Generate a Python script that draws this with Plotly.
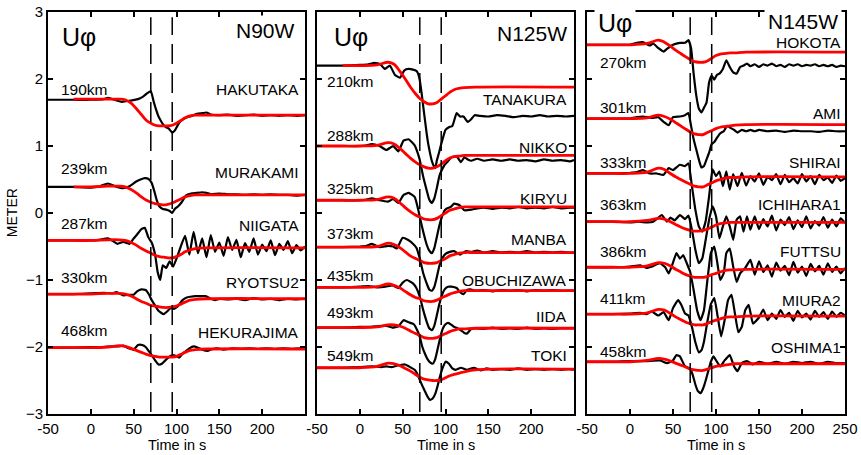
import plotly.graph_objects as go

FONT = "Liberation Sans, Arial, sans-serif"

# ---------------- time grid for synthetic (red) traces ----------------
SYN_T = [-50, -20, 0, 20, 33, 40, 47, 53, 59, 65, 70, 75, 80, 85, 90, 95, 100, 105, 110, 116, 122, 135, 250]
DASH_T = [70, 95]

# ---------------- Panel 1 : N90W ----------------
P1_TITLE = "N90W"
P1_NAMES = ["HAKUTAKA", "MURAKAMI", "NIIGATA", "RYOTSU2", "HEKURAJIMA"]
P1_DIST = ["190km", "239km", "287km", "330km", "468km"]

hakutaka_t = [-50, -20, 0, 15, 20, 25, 30, 36, 42, 48, 55, 60, 65, 70, 73, 76, 79, 82, 85, 88, 91, 95, 98, 101, 104,
              108, 112, 118, 124, 130, 135, 140, 150, 160, 170, 180, 190, 200, 210, 220, 230, 240, 250]
hakutaka_obs = [1.69, 1.69, 1.69, 1.70, 1.72, 1.70, 1.68, 1.66, 1.67, 1.68, 1.70, 1.73, 1.78, 1.82, 1.68, 1.55, 1.44,
                1.37, 1.31, 1.28, 1.26, 1.20, 1.23, 1.30, 1.36, 1.40, 1.43, 1.45, 1.48, 1.49, 1.50, 1.47, 1.46, 1.47,
                1.45, 1.46, 1.47, 1.45, 1.46, 1.45, 1.46, 1.45, 1.46]
hakutaka_syn = [None, 1.70, 1.70, 1.70, 1.70, 1.69, 1.64, 1.56, 1.47, 1.38, 1.34, 1.31, 1.30, 1.30, 1.30, 1.31, 1.34,
                1.38, 1.42, 1.45, 1.46, 1.46, 1.46]

murakami_t = [-50, -20, 0, 10, 20, 28, 37, 45, 53, 58, 63, 67, 71, 74, 77, 80, 84, 88, 92, 95, 98, 102, 106, 111, 117,
              123, 130, 135, 140, 150, 160, 170, 180, 190, 200, 210, 220, 230, 240, 250]
murakami_obs = [0.39, 0.39, 0.38, 0.40, 0.44, 0.40, 0.37, 0.40, 0.47, 0.50, 0.52, 0.51, 0.45, 0.33, 0.19, 0.10, 0.06,
                0.05, 0.03, 0.00, 0.06, 0.10, 0.16, 0.26, 0.29, 0.30, 0.31, 0.30, 0.28, 0.29, 0.28, 0.28, 0.27, 0.28,
                0.27, 0.28, 0.27, 0.27, 0.26, 0.27]
murakami_syn = [None, 0.39, 0.39, 0.40, 0.40, 0.39, 0.35, 0.30, 0.24, 0.19, 0.16, 0.14, 0.13, 0.12, 0.13, 0.15, 0.18,
                0.21, 0.24, 0.26, 0.27, 0.27, 0.27]

niigata_t = [-50, -20, 0, 10, 20, 26, 31, 38, 45, 50, 54, 59, 63, 67, 71, 75, 78, 81, 84, 88, 92, 96, 100,
             105, 110, 115, 120, 125, 130, 135, 140, 145, 150, 155, 160, 165, 170, 175, 180, 185, 190, 195, 200,
             205, 210, 215, 220, 225, 230, 235, 240, 245, 250]
niigata_obs = [-0.41, -0.41, -0.41, -0.40, -0.38, -0.42, -0.46, -0.43, -0.46, -0.38, -0.32, -0.24, -0.22, -0.36,
               -0.44, -0.62, -0.88, -1.00, -0.78, -0.82, -0.72, -0.80, -0.68,
               -0.50, -0.34, -0.62, -0.28, -0.60, -0.38, -0.66, -0.33, -0.58, -0.44, -0.64, -0.36, -0.55, -0.40,
               -0.66, -0.45, -0.58, -0.38, -0.62, -0.47, -0.57, -0.41, -0.63, -0.46, -0.55, -0.42, -0.60, -0.48,
               -0.56, -0.50]
niigata_syn = [-0.41, -0.41, -0.41, -0.40, -0.40, -0.41, -0.44, -0.48, -0.53, -0.57, -0.60, -0.63, -0.65, -0.66,
               -0.67, -0.67, -0.65, -0.62, -0.58, -0.55, -0.53, -0.52, -0.52]

ryotsu2_t = [-50, -20, 0, 15, 25, 30, 38, 45, 50, 54, 59, 64, 68, 71, 75, 79, 85, 89, 93, 97, 101, 107, 112, 116, 122,
             128, 134, 140, 145, 150, 160, 170, 180, 190, 200, 210, 220, 230, 240, 250]
ryotsu2_obs = [-1.21, -1.21, -1.20, -1.19, -1.20, -1.18, -1.23, -1.22, -1.22, -1.17, -1.14, -1.15, -1.22, -1.30,
               -1.38, -1.46, -1.51, -1.47, -1.42, -1.43, -1.40, -1.30, -1.26, -1.25, -1.24, -1.24, -1.24, -1.28,
               -1.30, -1.28, -1.29, -1.28, -1.30, -1.27, -1.29, -1.28, -1.30, -1.28, -1.29, -1.28]
ryotsu2_syn = [-1.21, -1.21, -1.21, -1.20, -1.20, -1.21, -1.24, -1.28, -1.32, -1.35, -1.38, -1.39, -1.40, -1.41,
               -1.41, -1.40, -1.39, -1.36, -1.33, -1.30, -1.29, -1.28, -1.28]

hekurajima_t = [-50, -20, 0, 15, 25, 32, 38, 44, 50, 55, 60, 64, 67, 71, 75, 79, 83, 87, 91, 95, 99, 103, 107, 111,
                115, 120, 125, 130, 136, 142, 148, 155, 165, 175, 185, 195, 205, 215, 225, 235, 245, 250]
hekurajima_obs = [-2.01, -2.01, -2.00, -2.00, -1.99, -1.99, -1.98, -2.02, -2.04, -1.97, -1.97, -2.00, -2.05, -2.12,
                  -2.20, -2.26, -2.25, -2.20, -2.15, -2.12, -2.13, -2.16, -2.10, -2.06, -2.02, -1.99, -2.01, -2.04,
                  -2.06, -2.03, -2.02, -2.04, -2.02, -2.03, -2.02, -2.03, -2.02, -2.03, -2.02, -2.03, -2.02, -2.03]
hekurajima_syn = [-2.01, -2.01, -2.01, -2.00, -1.98, -1.99, -2.02, -2.05, -2.08, -2.11, -2.13, -2.14, -2.15, -2.15,
                  -2.15, -2.15, -2.14, -2.11, -2.08, -2.05, -2.04, -2.03, -2.03]

# ---------------- Panel 2 : N125W ----------------
P2_TITLE = "N125W"
P2_NAMES = ["TANAKURA", "NIKKO", "KIRYU", "MANBA", "OBUCHIZAWA", "IIDA", "TOKI"]
P2_DIST = ["210km", "288km", "325km", "373km", "435km", "493km", "549km"]

tanakura_t = [-50, -20, 0, 10, 17, 24, 29, 35, 41, 47, 52, 57, 62, 66, 68, 70, 72, 74, 76, 78, 80, 82, 84, 86, 88,
              90, 92, 94, 97, 100, 104, 108, 113, 117, 121, 126, 130, 134, 140, 150, 160, 170, 180, 190, 200, 210,
              220, 230, 240, 250]
tanakura_obs = [2.20, 2.20, 2.21, 2.22, 2.24, 2.22, 2.15, 2.20, 2.06, 2.02, 2.13, 2.15, 2.14, 2.12, 2.08, 1.98, 1.80,
                1.59, 1.39, 1.19, 1.02, 0.89, 0.78, 0.71, 0.67, 0.79, 0.88, 0.98, 1.12, 1.24, 1.28, 1.30, 1.49, 1.44,
                1.44, 1.36, 1.40, 1.46, 1.45, 1.44, 1.46, 1.45, 1.43, 1.45, 1.44, 1.46, 1.44, 1.45, 1.44, 1.45]
tanakura_syn = [None, 2.20, 2.20, 2.21, 2.25, 2.22, 2.11, 2.00, 1.88, 1.78, 1.71, 1.66, 1.63, 1.63, 1.65, 1.70, 1.75,
                1.80, 1.84, 1.86, 1.87, 1.88, 1.88]

nikko_t = [-50, -20, 0, 8, 14, 23, 31, 39, 45, 51, 57, 64, 68, 70, 74, 78, 81, 84, 87, 90, 93, 96, 99, 102, 106, 110,
           114, 118, 122, 126, 130, 137, 145, 155, 165, 175, 185, 195, 205, 215, 225, 235, 245, 250]
nikko_obs = [1.00, 1.00, 1.00, 1.01, 1.03, 1.00, 0.94, 1.00, 0.92, 1.08, 1.10, 1.01, 0.88, 0.79, 0.54, 0.34, 0.20,
             0.15, 0.22, 0.38, 0.56, 0.65, 0.72, 0.76, 0.82, 0.84, 0.83, 0.76, 0.83, 0.80, 0.78, 0.81, 0.78, 0.80,
             0.78, 0.80, 0.78, 0.79, 0.77, 0.80, 0.78, 0.79, 0.77, 0.79]
nikko_syn = [1.00, 1.00, 1.00, 1.01, 1.05, 1.03, 0.96, 0.89, 0.82, 0.76, 0.72, 0.69, 0.67, 0.67, 0.69, 0.73, 0.78,
             0.82, 0.84, 0.85, 0.86, 0.86, 0.86]

kiryu_t = [-50, -20, 0, 8, 14, 23, 33, 39, 45, 51, 57, 64, 68, 70, 74, 78, 81, 84, 87, 90, 93, 96, 99, 102, 106, 110,
           116, 122, 130, 137, 145, 155, 165, 175, 185, 195, 205, 215, 225, 235, 245, 250]
kiryu_obs = [0.19, 0.19, 0.19, 0.20, 0.22, 0.19, 0.17, 0.21, 0.15, 0.27, 0.30, 0.24, 0.06, -0.06, -0.28, -0.47,
             -0.56, -0.60, -0.52, -0.35, -0.18, -0.05, 0.04, 0.07, 0.09, 0.14, 0.12, 0.04, 0.05, 0.07, 0.08, 0.06,
             0.08, 0.07, 0.09, 0.07, 0.08, 0.07, 0.09, 0.07, 0.08, 0.08]
kiryu_syn = [0.19, 0.19, 0.19, 0.20, 0.24, 0.22, 0.15, 0.08, 0.02, -0.03, -0.06, -0.09, -0.10, -0.10, -0.08, -0.04,
             0.00, 0.04, 0.06, 0.08, 0.09, 0.09, 0.09]

manba_t = [-50, -20, 0, 8, 14, 23, 33, 39, 43, 50, 56, 62, 66, 70, 74, 78, 81, 84, 87, 90, 93, 96, 100, 105, 110, 117,
           124, 130, 137, 145, 155, 165, 175, 185, 195, 205, 215, 225, 235, 245, 250]
manba_obs = [-0.51, -0.51, -0.50, -0.49, -0.46, -0.51, -0.49, -0.50, -0.53, -0.37, -0.40, -0.46, -0.52, -0.68, -0.90,
             -1.05, -1.14, -1.16, -1.10, -0.95, -0.78, -0.68, -0.61, -0.58, -0.57, -0.62, -0.57, -0.58, -0.56, -0.59,
             -0.57, -0.59, -0.58, -0.59, -0.57, -0.59, -0.58, -0.59, -0.58, -0.59, -0.59]
manba_syn = [-0.51, -0.51, -0.51, -0.50, -0.45, -0.47, -0.52, -0.58, -0.64, -0.68, -0.71, -0.74, -0.75, -0.75, -0.74,
             -0.71, -0.68, -0.64, -0.62, -0.60, -0.59, -0.59, -0.59]

obuchizawa_t = [-50, -20, 0, 10, 20, 30, 38, 45, 50, 55, 62, 66, 70, 74, 78, 81, 84, 87, 90, 93, 96, 99, 103, 107,
                113, 117, 121, 125, 129, 135, 145, 155, 165, 175, 185, 195, 205, 215, 225, 235, 245, 250]
obuchizawa_obs = [-1.11, -1.11, -1.10, -1.09, -1.11, -1.10, -1.08, -1.12, -1.04, -1.00, -1.05, -1.12, -1.25, -1.45,
                  -1.62, -1.72, -1.75, -1.68, -1.52, -1.35, -1.22, -1.14, -1.10, -1.10, -1.12, -1.18, -1.21, -1.15,
                  -1.14, -1.16, -1.15, -1.17, -1.15, -1.16, -1.15, -1.17, -1.15, -1.16, -1.15, -1.16, -1.16, -1.16]
obuchizawa_syn = [-1.11, -1.11, -1.11, -1.10, -1.06, -1.08, -1.12, -1.17, -1.22, -1.26, -1.28, -1.31, -1.32, -1.32,
                  -1.30, -1.27, -1.24, -1.21, -1.19, -1.17, -1.16, -1.16, -1.16]

iida_t = [-50, -20, 0, 10, 20, 30, 38, 45, 51, 55, 59, 63, 67, 70, 73, 76, 79, 82, 85, 88, 91, 94, 97, 100, 103, 107,
          110, 114, 118, 122, 125, 130, 135, 145, 155, 165, 175, 185, 195, 205, 215, 225, 235, 245, 250]
iida_obs = [-1.71, -1.71, -1.70, -1.70, -1.69, -1.68, -1.71, -1.69, -1.60, -1.62, -1.64, -1.66, -1.75, -1.85, -2.00,
            -2.10, -2.18, -2.23, -2.25, -2.18, -2.02, -1.85, -1.72, -1.66, -1.64, -1.67, -1.70, -1.72, -1.75, -1.79,
            -1.80, -1.73, -1.72, -1.73, -1.71, -1.73, -1.72, -1.73, -1.71, -1.73, -1.72, -1.73, -1.72, -1.72, -1.72]
iida_syn = [-1.71, -1.71, -1.71, -1.70, -1.67, -1.67, -1.69, -1.72, -1.76, -1.80, -1.83, -1.86, -1.87, -1.87, -1.86,
            -1.83, -1.80, -1.77, -1.75, -1.73, -1.73, -1.72, -1.72]

toki_t = [-50, -20, 0, 15, 25, 31, 37, 43, 48, 52, 56, 60, 64, 67, 70, 73, 76, 79, 82, 85, 88, 91, 94, 97, 100, 104,
          108, 112, 118, 125, 133, 141, 148, 155, 165, 175, 185, 195, 205, 215, 225, 235, 245, 250]
toki_obs = [-2.31, -2.31, -2.30, -2.29, -2.30, -2.29, -2.30, -2.28, -2.27, -2.26, -2.28, -2.31, -2.34, -2.40, -2.49,
            -2.58, -2.66, -2.74, -2.79, -2.77, -2.70, -2.57, -2.42, -2.30, -2.22, -2.25, -2.32, -2.34, -2.31, -2.34,
            -2.31, -2.35, -2.32, -2.34, -2.33, -2.34, -2.32, -2.34, -2.33, -2.34, -2.33, -2.34, -2.33, -2.34]
toki_syn = [-2.31, -2.31, -2.31, -2.29, -2.24, -2.25, -2.28, -2.32, -2.36, -2.41, -2.45, -2.48, -2.49, -2.50, -2.50,
            -2.49, -2.46, -2.43, -2.41, -2.39, -2.37, -2.34, -2.33]

# ---------------- Panel 3 : N145W ----------------
P3_TITLE = "N145W"
P3_NAMES = ["HOKOTA", "AMI", "SHIRAI", "ICHIHARA1", "FUTTSU", "MIURA2", "OSHIMA1"]
P3_DIST = ["270km", "301km", "333km", "363km", "386km", "411km", "458km"]

hokota_t = [-50, -20, 0, 8, 15, 23, 27, 33, 39, 43, 50, 58, 64, 68, 71, 74, 77, 80, 83, 86, 89, 92, 95, 98, 101, 104,
            108, 112, 116, 120, 124, 128, 132, 136, 140, 145, 150, 155, 160, 165, 170, 175, 180, 185, 190, 195, 200,
            205, 210, 215, 220, 225, 230, 235, 240, 245, 250]
hokota_obs = [2.51, 2.51, 2.51, 2.54, 2.55, 2.50, 2.53, 2.46, 2.41, 2.45, 2.51, 2.54, 2.54, 2.58, 2.46, 2.08, 1.76,
              1.56, 1.50, 1.57, 1.65, 1.95, 2.05, 1.99, 2.06, 2.08, 2.15, 2.28, 2.18, 2.10, 2.08, 2.18, 2.20, 2.23,
              2.19, 2.22, 2.18, 2.22, 2.20, 2.23, 2.19, 2.21, 2.18, 2.22, 2.20, 2.22, 2.19, 2.21, 2.20, 2.22, 2.19,
              2.21, 2.19, 2.21, 2.18, 2.20, 2.19]
hokota_syn = [2.51, 2.51, 2.51, 2.53, 2.58, 2.55, 2.49, 2.43, 2.38, 2.33, 2.29, 2.26, 2.25, 2.25, 2.27, 2.31, 2.35,
              2.37, 2.38, 2.39, 2.39, 2.40, 2.40]

ami_t = [-50, -20, 0, 8, 15, 25, 33, 39, 45, 50, 58, 64, 68, 71, 74, 77, 80, 83, 86, 89, 92, 95, 98, 101, 105, 109,
         113, 117, 121, 125, 130, 135, 140, 145, 150, 160, 170, 180, 190, 200, 210, 220, 230, 240, 250]
ami_obs = [1.41, 1.41, 1.41, 1.43, 1.44, 1.42, 1.43, 1.36, 1.31, 1.43, 1.44, 1.46, 1.49, 1.30, 1.10, 0.95, 0.80, 0.68,
           0.70, 0.80, 0.90, 1.03, 1.06, 1.12, 1.19, 1.22, 1.30, 1.27, 1.24, 1.20, 1.24, 1.22, 1.24, 1.22, 1.24, 1.22,
           1.23, 1.21, 1.23, 1.22, 1.22, 1.21, 1.23, 1.22, 1.22]
ami_syn = [1.41, 1.41, 1.41, 1.42, 1.46, 1.44, 1.40, 1.35, 1.30, 1.25, 1.21, 1.18, 1.17, 1.17, 1.20, 1.23, 1.26, 1.28,
           1.29, 1.30, 1.31, 1.32, 1.32]

shirai_t = [-50, -20, 0, 8, 15, 23, 31, 39, 45, 50, 58, 64, 68, 72, 76, 80, 84, 88, 92, 96, 100, 104, 108, 112, 116,
            120, 125, 130, 135, 140, 145, 150, 155, 160, 165, 170, 175, 180, 185, 190, 195, 200, 205, 210, 215, 220,
            225, 230, 235, 240, 245, 250]
shirai_obs = [0.59, 0.59, 0.60, 0.61, 0.64, 0.59, 0.59, 0.57, 0.67, 0.64, 0.72, 0.70, 0.74, 0.40, 0.05, -0.20, -0.28,
              -0.12, 0.25, 0.65, 0.55, 0.62, 0.40, 0.62, 0.35, 0.58,
              0.40, 0.60, 0.41, 0.55, 0.47, 0.59, 0.42, 0.54, 0.49, 0.58, 0.43, 0.57, 0.46, 0.52, 0.44, 0.58, 0.47,
              0.55, 0.43, 0.57, 0.49, 0.53, 0.45, 0.56, 0.48, 0.52]
shirai_syn = [0.59, 0.59, 0.59, 0.61, 0.67, 0.65, 0.59, 0.54, 0.50, 0.46, 0.43, 0.40, 0.39, 0.39, 0.42, 0.45, 0.48,
              0.50, 0.52, 0.53, 0.53, 0.54, 0.54]

ichihara1_t = [-50, -20, 0, 10, 20, 27, 31, 37, 43, 47, 52, 58, 64, 68, 72, 76, 80, 84, 88, 92, 96, 100, 104, 108,
               112, 116, 120, 124, 128, 132, 136, 140, 145, 150, 155, 160, 165, 170, 175, 180, 185, 190, 195, 200,
               205, 210, 215, 220, 225, 230, 235, 240, 245, 250]
ichihara1_obs = [-0.13, -0.13, -0.14, -0.13, -0.14, -0.13, -0.09, -0.03, -0.13, -0.07, -0.11, -0.03, -0.09, -0.04,
                 -0.25, -0.55, -0.75, -0.68, -0.40, -0.10, 0.10, -0.05, -0.38, -0.20, -0.05, -0.20, -0.40, -0.10,
                 -0.05, -0.28, -0.05, -0.25,
                 -0.05, -0.24, -0.09, -0.20, -0.04, -0.26, -0.10, -0.18, -0.06, -0.24, -0.11, -0.21, -0.05, -0.23,
                 -0.12, -0.19, -0.06, -0.22, -0.10, -0.20, -0.08, -0.15]
ichihara1_syn = [-0.13, -0.13, -0.13, -0.11, -0.08, -0.09, -0.13, -0.17, -0.21, -0.24, -0.26, -0.27, -0.27, -0.26,
                 -0.24, -0.21, -0.18, -0.16, -0.15, -0.14, -0.14, -0.14, -0.14]

futtsu_t = [-50, -20, 0, 12, 19, 25, 35, 41, 45, 49, 54, 58, 62, 66, 70, 74, 78, 82, 86, 90, 94, 98, 101, 105, 109,
            112, 116, 120, 124, 128, 134, 140, 145, 150, 155, 160, 165, 170, 175, 180, 185, 190, 195, 200, 205, 210,
            215, 220, 225, 230, 235, 240, 245, 250]
futtsu_obs = [-0.81, -0.81, -0.80, -0.78, -0.82, -0.80, -0.75, -0.81, -0.90, -0.78, -0.60, -0.68, -0.63, -0.75,
              -0.88, -1.15, -1.45, -1.60, -1.45, -1.00, -0.60, -0.50, -0.70, -1.00, -0.90, -0.60, -0.53, -0.80,
              -1.03, -0.90, -0.82, -0.70,
              -0.92, -0.72, -0.88, -0.78, -0.95, -0.74, -0.86, -0.79, -0.93, -0.73, -0.89, -0.80, -0.94, -0.76,
              -0.87, -0.79, -0.92, -0.75, -0.88, -0.80, -0.90, -0.82]
futtsu_syn = [-0.81, -0.81, -0.81, -0.79, -0.74, -0.75, -0.79, -0.84, -0.88, -0.92, -0.94, -0.96, -0.96, -0.96, -0.95,
              -0.92, -0.90, -0.88, -0.86, -0.85, -0.85, -0.84, -0.84]

miura2_t = [-50, -20, 0, 12, 19, 25, 33, 39, 45, 50, 56, 60, 64, 68, 72, 76, 80, 83, 86, 90, 94, 98, 102, 106, 110,
            114, 118, 122, 126, 130, 134, 138, 143, 150, 155, 160, 165, 170, 175, 180, 185, 190, 195, 200, 205, 210,
            215, 220, 225, 230, 235, 240, 245, 250]
miura2_obs = [-1.51, -1.51, -1.50, -1.49, -1.51, -1.47, -1.53, -1.48, -1.60, -1.42, -1.30, -1.38, -1.50, -1.53, -1.70,
              -1.93, -2.08, -2.05, -1.92, -1.62, -1.36, -1.27, -1.55, -1.84, -1.60, -1.30, -1.22, -1.50, -1.78,
              -1.70, -1.45, -1.37, -1.65,
              -1.56, -1.44, -1.60, -1.50, -1.58, -1.45, -1.55, -1.49, -1.61, -1.46, -1.56, -1.50, -1.59, -1.46,
              -1.55, -1.48, -1.58, -1.47, -1.55, -1.49, -1.53]
miura2_syn = [-1.51, -1.51, -1.51, -1.49, -1.44, -1.45, -1.50, -1.55, -1.59, -1.63, -1.65, -1.67, -1.67, -1.67, -1.65,
              -1.62, -1.60, -1.58, -1.56, -1.55, -1.55, -1.54, -1.54]

oshima1_t = [-50, -20, 0, 19, 35, 43, 50, 54, 58, 64, 70, 73, 76, 79, 82, 85, 88, 91, 94, 97, 101, 105, 110, 116, 121,
             125, 130, 136, 143, 150, 160, 170, 180, 190, 200, 210, 220, 230, 240, 250]
oshima1_obs = [-2.22, -2.22, -2.21, -2.21, -2.20, -2.24, -2.20, -2.12, -2.14, -2.29, -2.32, -2.42, -2.56, -2.66, -2.69,
               -2.62, -2.50, -2.36, -2.22, -2.14, -2.22, -2.29, -2.20, -2.12, -2.29, -2.36, -2.24, -2.21, -2.26,
               -2.22, -2.25, -2.22, -2.25, -2.22, -2.24, -2.22, -2.25, -2.22, -2.24, -2.24]
oshima1_syn = [-2.22, -2.22, -2.22, -2.20, -2.17, -2.18, -2.21, -2.24, -2.27, -2.30, -2.33, -2.34, -2.35, -2.35,
               -2.33, -2.31, -2.29, -2.28, -2.27, -2.26, -2.25, -2.25, -2.25]

# ---------------- label placement (layout, not data) ----------------
P1_KM_Y = [1.85, 0.66, -0.15, -0.96, -1.75]
P1_NAME_Y = [1.84, 0.61, -0.18, -1.03, -1.79]
P2_KM_Y = [1.97, 1.16, 0.36, -0.31, -0.93, -1.48, -2.13]
P2_NAME_Y = [1.70, 0.985, 0.22, -0.40, -1.00, -1.54, -2.13]
P3_KM_Y = [2.24, 1.57, 0.75, 0.12, -0.58, -1.28, -2.06]
P3_NAME_Y = [2.54, 1.49, 0.75, 0.12, -0.58, -1.30, -2.01]

panels = [
    dict(title=P1_TITLE, names=P1_NAMES, dist=P1_DIST, km_y=P1_KM_Y, name_y=P1_NAME_Y,
         km_x=-37, name_x=245, ttl_y=2.72, u_y=2.62, u_x=-38, n_x=250, n_shift=-6,
         data=[(hakutaka_t, hakutaka_obs, hakutaka_syn), (murakami_t, murakami_obs, murakami_syn),
               (niigata_t, niigata_obs, niigata_syn), (ryotsu2_t, ryotsu2_obs, ryotsu2_syn),
               (hekurajima_t, hekurajima_obs, hekurajima_syn)]),
    dict(title=P2_TITLE, names=P2_NAMES, dist=P2_DIST, km_y=P2_KM_Y, name_y=P2_NAME_Y,
         km_x=-41, name_x=244, ttl_y=2.68, u_y=2.62, u_x=-35, n_x=250, n_shift=-3,
         data=[(tanakura_t, tanakura_obs, tanakura_syn), (nikko_t, nikko_obs, nikko_syn),
               (kiryu_t, kiryu_obs, kiryu_syn), (manba_t, manba_obs, manba_syn),
               (obuchizawa_t, obuchizawa_obs, obuchizawa_syn), (iida_t, iida_obs, iida_syn),
               (toki_t, toki_obs, toki_syn)]),
    dict(title=P3_TITLE, names=P3_NAMES, dist=P3_DIST, km_y=P3_KM_Y, name_y=P3_NAME_Y,
         km_x=-37, name_x=248, ttl_y=2.86, u_y=2.83, u_x=-42, n_x=250, n_shift=-3,
         data=[(hokota_t, hokota_obs, hokota_syn), (ami_t, ami_obs, ami_syn),
               (shirai_t, shirai_obs, shirai_syn), (ichihara1_t, ichihara1_obs, ichihara1_syn),
               (futtsu_t, futtsu_obs, futtsu_syn), (miura2_t, miura2_obs, miura2_syn),
               (oshima1_t, oshima1_obs, oshima1_syn)]),
]

for p in panels:
    for t, o, s in p["data"]:
        assert len(t) == len(o), (len(t), len(o))
        assert len(s) == len(SYN_T), len(s)

fig = go.Figure()
annotations = []
shapes = []
LABEL_FS = 15.5

for i, p in enumerate(panels):
    xa = "x" if i == 0 else f"x{i+1}"
    ya = "y" if i == 0 else f"y{i+1}"
    for t, o, s in p["data"]:
        fig.add_trace(go.Scatter(x=t, y=o, mode="lines", xaxis=xa, yaxis=ya, showlegend=False,
                                 line=dict(color="black", width=2.2, shape="spline", smoothing=0.4),
                                 hoverinfo="skip"))
    for t, o, s in p["data"]:
        fig.add_trace(go.Scatter(x=SYN_T, y=s, mode="lines", xaxis=xa, yaxis=ya, showlegend=False,
                                 line=dict(color="#ff0000", width=2.8, shape="spline", smoothing=1.0),
                                 connectgaps=False, hoverinfo="skip"))
    for name, dist, ky, ny in zip(p["names"], p["dist"], p["km_y"], p["name_y"]):
        annotations.append(dict(x=p["km_x"], y=ky, xref=xa, yref=ya, text=dist, showarrow=False,
                                xanchor="left", yanchor="middle",
                                font=dict(family=FONT, size=LABEL_FS, color="black")))
        annotations.append(dict(x=p["name_x"], y=ny, xref=xa, yref=ya, text=name, showarrow=False,
                                xanchor="right", yanchor="middle",
                                font=dict(family=FONT, size=LABEL_FS, color="black")))
    annotations.append(dict(x=p["u_x"], y=p["u_y"], xref=xa, yref=ya, text="Uφ", showarrow=False,
                            xanchor="left", yanchor="middle", bgcolor="white", borderpad=3,
                            font=dict(family=FONT, size=25, color="black")))
    annotations.append(dict(x=p["n_x"], y=p["ttl_y"], xref=xa, yref=ya, text=p["title"], showarrow=False,
                            xanchor="right", yanchor="middle", bgcolor="white", borderpad=3,
                            xshift=p["n_shift"],
                            font=dict(family=FONT, size=21, color="black")))
    annotations.append(dict(x=100, y=-0.076, xref=xa, yref="paper", text="Time in s", showarrow=False,
                            xanchor="center", yanchor="middle",
                            font=dict(family=FONT, size=14.5, color="black")))
    for dt in DASH_T:
        shapes.append(dict(type="line", x0=dt, x1=dt, y0=-2.97, y1=2.92, xref=xa, yref=ya,
                           line=dict(color="black", width=1.5, dash="20px,9px")))

annotations.append(dict(x=-0.045, y=0.5, xref="paper", yref="paper", text="METER", textangle=-90,
                        showarrow=False, xanchor="center", yanchor="middle",
                        font=dict(family=FONT, size=14, color="black")))

W = 797.0
doms = [[0, 257 / W], [269 / W, 526 / W], [539 / W, 1.0]]
ax_common = dict(showline=True, linewidth=2, linecolor="black", mirror="ticks", ticks="inside", ticklen=5,
                 tickwidth=1.5, tickcolor="black", showgrid=False, zeroline=False, automargin=False,
                 tickfont=dict(family=FONT, size=15, color="black"))
xticks = [-50, 0, 50, 100, 150, 200, 250]
layout = dict(width=861, height=455, margin=dict(l=48, r=16, t=12, b=41, pad=0, autoexpand=False),
              plot_bgcolor="white", paper_bgcolor="white", showlegend=False,
              annotations=annotations, shapes=shapes)
for i in range(3):
    xk = "xaxis" if i == 0 else f"xaxis{i+1}"
    yk = "yaxis" if i == 0 else f"yaxis{i+1}"
    xa = "x" if i == 0 else f"x{i+1}"
    ya = "y" if i == 0 else f"y{i+1}"
    txt = ["-50", "0", "50", "100", "150", "200", "250" if i == 2 else ""]
    layout[xk] = dict(ax_common, domain=doms[i], range=[-50, 250], anchor=ya,
                      tickvals=xticks, ticktext=txt)
    layout[yk] = dict(ax_common, domain=[0, 1], range=[-3, 3], anchor=xa,
                      tickvals=[-3, -2, -1, 0, 1, 2, 3], showticklabels=(i == 0))
fig.update_layout(**layout)
fig.write_html("out.html", config={"displayModeBar": False},
               post_script="document.body.style.margin='0px';document.body.style.overflow='hidden';")
